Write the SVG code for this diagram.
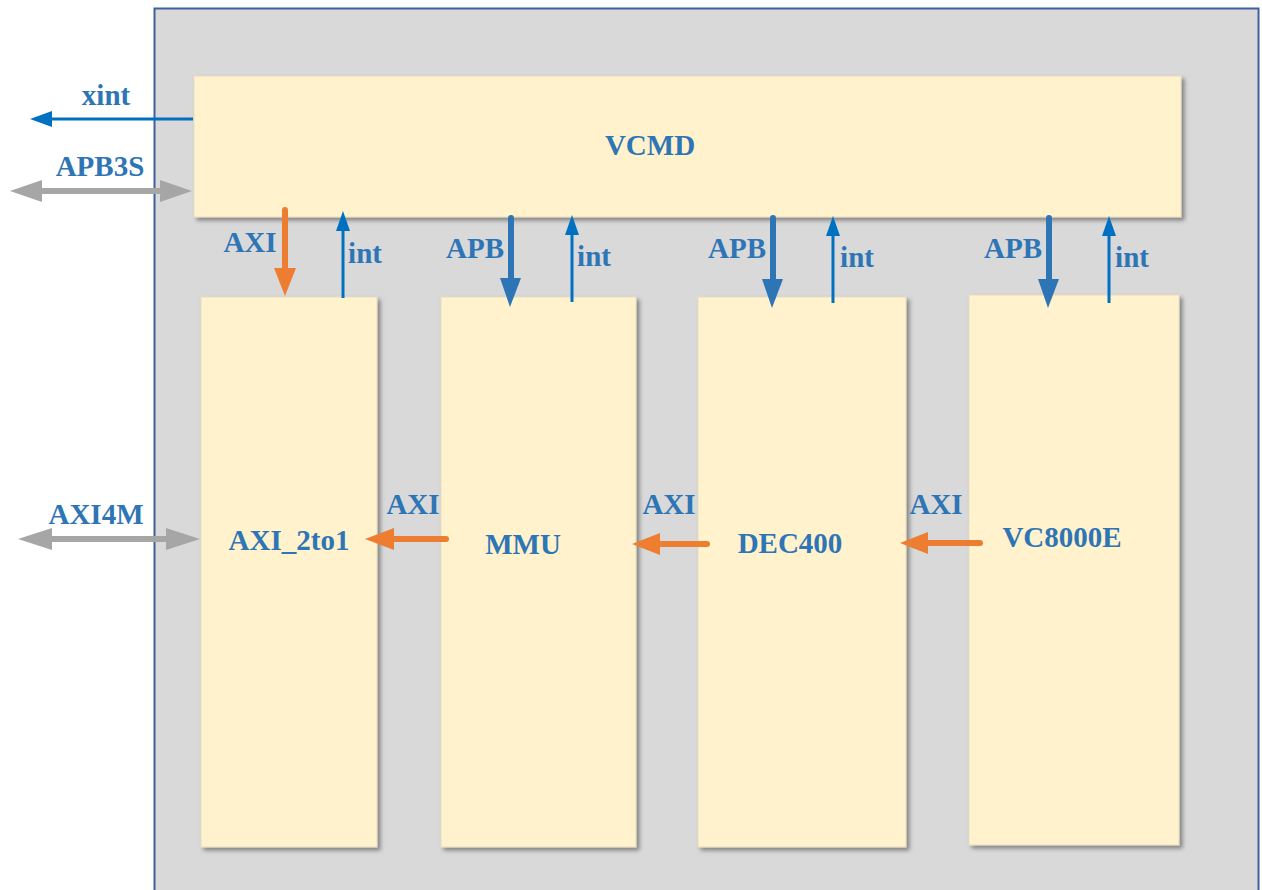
<svg xmlns="http://www.w3.org/2000/svg" width="1262" height="890" viewBox="0 0 1262 890">
<style>
.t{font-family:"Liberation Serif","Times New Roman",serif;font-weight:bold;font-size:29px;fill:#2e75b6;text-anchor:middle}
.box{fill:#fff2cc;stroke:#e6dcc0;stroke-width:1}
.blue{stroke:#0070c0;stroke-width:3;fill:none}
.apb{stroke:#2e75b6;stroke-width:6;fill:none;stroke-linecap:round}
.org{stroke:#ed7d31;stroke-width:6;fill:none;stroke-linecap:round}
.gray{stroke:#a6a6a6;stroke-width:6;fill:none}
</style>
<defs>
<filter id="sh" x="-10%" y="-10%" width="120%" height="120%">
<feDropShadow dx="3" dy="3" stdDeviation="2" flood-color="#000" flood-opacity="0.4"/>
</filter>
</defs>
<rect x="0" y="0" width="1262" height="890" fill="#fff"/>
<rect x="154.5" y="8.5" width="1104" height="890" fill="#d9d9d9" stroke="#3f5fa0" stroke-width="2"/>
<g id="VCMD"><rect class="box" x="194" y="76" width="987" height="141" filter="url(#sh)"/><text class="t" x="650" y="155">VCMD</text></g>
<g id="AXI_2to1"><rect class="box" x="201" y="297" width="176" height="550" filter="url(#sh)"/><text class="t" x="289" y="550">AXI_2to1</text></g>
<g id="MMU"><rect class="box" x="441" y="297" width="195" height="550" filter="url(#sh)"/><text class="t" x="523" y="554">MMU</text></g>
<g id="DEC400"><rect class="box" x="698" y="297" width="208" height="550" filter="url(#sh)"/><text class="t" x="790" y="553">DEC400</text></g>
<g id="VC8000E"><rect class="box" x="969" y="295" width="210" height="550" filter="url(#sh)"/><text class="t" x="1062" y="547">VC8000E</text></g>
<g id="connectors">
<line class="blue" x1="193" y1="119" x2="48" y2="119"/><polygon points="30,119 52,111 52,127" fill="#0070c0"/>
<line class="gray" x1="30" y1="191" x2="172" y2="191"/><polygon points="10,191 42,180 42,202" fill="#a6a6a6"/><polygon points="192,191 160,180 160,202" fill="#a6a6a6"/>
<line class="gray" x1="38" y1="539" x2="180" y2="539"/><polygon points="18,539 52,528 52,550" fill="#a6a6a6"/><polygon points="200,539 166,528 166,550" fill="#a6a6a6"/>
<line class="org" x1="285" y1="210" x2="285" y2="270"/><polygon points="285,296 274,268 296,268" fill="#ed7d31"/>
<line class="blue" x1="343" y1="298" x2="343" y2="228"/><polygon points="343,211 336,231 350,231" fill="#0070c0"/>
<line class="apb" x1="511" y1="218" x2="511" y2="280"/><polygon points="510,307 500,278 521,278" fill="#2e75b6"/>
<line class="blue" x1="572" y1="302" x2="572" y2="232"/><polygon points="572,215 565,235 579,235" fill="#0070c0"/>
<line class="apb" x1="773" y1="218" x2="773" y2="281"/><polygon points="772,308 762,279 783,279" fill="#2e75b6"/>
<line class="blue" x1="833" y1="303" x2="833" y2="233"/><polygon points="833,216 826,236 840,236" fill="#0070c0"/>
<line class="apb" x1="1049" y1="218" x2="1049" y2="281"/><polygon points="1048,308 1038,279 1059,279" fill="#2e75b6"/>
<line class="blue" x1="1109" y1="303" x2="1109" y2="233"/><polygon points="1109,216 1102,236 1116,236" fill="#0070c0"/>
<line class="org" x1="446" y1="539" x2="390" y2="539"/><polygon points="365,539 394,528 394,550" fill="#ed7d31"/>
<line class="org" x1="707" y1="544" x2="657" y2="544"/><polygon points="632,544 660,533 660,555" fill="#ed7d31"/>
<line class="org" x1="980" y1="543" x2="925" y2="543"/><polygon points="900,543 928,532 928,554" fill="#ed7d31"/>
</g>
<g id="labels">
<text class="t" x="106" y="105">xint</text>
<text class="t" x="100" y="176">APB3S</text>
<text class="t" x="96" y="524">AXI4M</text>
<text class="t" x="250" y="252">AXI</text>
<text class="t" x="365" y="263">int</text>
<text class="t" x="475" y="258">APB</text>
<text class="t" x="594" y="266">int</text>
<text class="t" x="737" y="258">APB</text>
<text class="t" x="857" y="267">int</text>
<text class="t" x="1013" y="258">APB</text>
<text class="t" x="1132" y="267">int</text>
<text class="t" x="413" y="514">AXI</text>
<text class="t" x="669" y="514">AXI</text>
<text class="t" x="936" y="514">AXI</text>
</g>
</svg>
